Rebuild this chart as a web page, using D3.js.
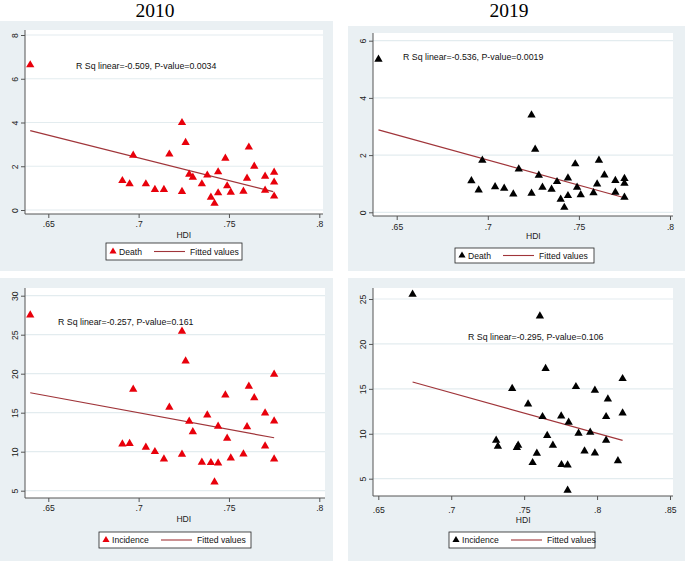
<!DOCTYPE html>
<html><head><meta charset="utf-8">
<script src="https://cdn.jsdelivr.net/npm/d3@7"></script>
<style>
html,body{margin:0;padding:0;background:#fff;}
svg{display:block;font-family:"Liberation Sans",Arial,sans-serif;}
</style></head>
<body><svg id="c" width="685" height="561"></svg>
<script>
// ---------- data ----------
const titles = ["2010", "2019"];
const xTicksA = [0.65, 0.7, 0.75, 0.8];
const xTicksB = [0.65, 0.7, 0.75, 0.8, 0.85];
const yTicksDeath2010 = [0, 2, 4, 6, 8];
const yTicksDeath2019 = [0, 2, 4, 6];
const yTicksInc2010 = [5, 10, 15, 20, 25, 30];
const yTicksInc2019 = [5, 10, 15, 20, 25];

const hdiDeath2010 = [0.640,0.691,0.695,0.697,0.704,0.709,0.714,0.717,0.724,0.724,0.726,0.728,0.730,0.735,0.738,0.740,0.742,0.744,0.744,0.748,0.749,0.751,0.758,0.760,0.761,0.764,0.770,0.770,0.775,0.775,0.775];
const death2010 = [6.63,1.34,1.19,2.50,1.19,0.93,0.93,2.55,3.99,0.84,3.08,1.63,1.49,1.19,1.59,0.58,0.30,1.74,0.78,2.36,1.10,0.81,0.85,1.45,2.87,2.00,1.54,0.90,1.72,1.27,0.63];
const fitDeath2010X = [0.640, 0.7745];
const fitDeath2010Y = [3.63, 0.84];

const hdiDeath2019 = [0.640,0.691,0.695,0.697,0.704,0.709,0.714,0.717,0.724,0.724,0.726,0.728,0.730,0.735,0.738,0.740,0.742,0.744,0.744,0.748,0.749,0.751,0.758,0.760,0.761,0.764,0.770,0.770,0.775,0.775,0.775];
const death2019 = [5.35,1.10,0.78,1.82,0.89,0.84,0.64,1.51,3.40,0.66,2.20,1.29,0.87,0.80,1.07,0.45,0.17,1.20,0.58,1.69,0.87,0.61,0.68,0.99,1.82,1.30,1.11,0.70,1.18,1.01,0.52];
const fitDeath2019X = [0.640, 0.775];
const fitDeath2019Y = [2.88, 0.51];

const hdiInc2010 = [0.640,0.691,0.695,0.697,0.704,0.709,0.714,0.717,0.724,0.724,0.726,0.728,0.730,0.735,0.738,0.740,0.742,0.744,0.744,0.748,0.749,0.751,0.758,0.760,0.761,0.764,0.770,0.770,0.775,0.775,0.775];
const inc2010 = [27.52,10.98,11.03,18.00,10.56,10.00,9.06,15.68,25.43,9.66,21.62,13.89,12.56,8.63,14.70,8.59,6.11,8.55,13.25,17.26,11.71,9.19,9.70,13.20,18.38,16.92,14.96,10.73,19.91,13.93,9.06];
const fitInc2010X = [0.640, 0.775];
const fitInc2010Y = [17.56, 11.79];

const hdiInc2019 = [0.6735,0.7308,0.7320,0.7418,0.7450,0.7459,0.7527,0.7558,0.7587,0.7608,0.7626,0.7647,0.7658,0.7697,0.7754,0.7756,0.7798,0.7798,0.7805,0.7855,0.7873,0.7914,0.7953,0.7985,0.7985,0.8062,0.8062,0.8074,0.8143,0.8175,0.8175];
const inc2019 = [25.52,9.27,8.60,15.02,8.45,8.71,13.31,6.78,7.82,23.10,11.90,17.25,9.79,8.71,11.98,6.56,6.52,3.70,11.27,15.24,10.05,8.08,10.16,14.83,7.86,9.27,11.90,13.87,7.00,16.13,12.31];
const fitInc2019X = [0.6735, 0.8175];
const fitInc2019Y = [15.76, 9.27];

const stats = ["R Sq linear=-0.509, P-value=0.0034","R Sq linear=-0.536, P-value=0.0019","R Sq linear=-0.257, P-value=0.161","R Sq linear=-0.295, P-value=0.106"];
const seriesNames = ["Death","Death","Incidence","Incidence"];
const fitName = "Fitted values";
const xTitle = "HDI";

// ---------- layout ----------
const panels = [
  {x:hdiDeath2010, y:death2010, fx:fitDeath2010X, fy:fitDeath2010Y, xt:xTicksA, yt:yTicksDeath2010, color:"#e8000b",
   bg:[0,21,333,250], plot:[25,30,323,214], xd:[0.65,0.8], xr:[48.3,319.3], yd:[0,8], yr:[210,35],
   stat:[76,69], tickY:227, hdiY:237.5, leg:[106,243,136,17]},
  {x:hdiDeath2019, y:death2019, fx:fitDeath2019X, fy:fitDeath2019Y, xt:xTicksA, yt:yTicksDeath2019, color:"#000",
   bg:[348,26,337,245], plot:[373,33,673,216], xd:[0.65,0.8], xr:[396.7,670], yd:[0,6], yr:[212.3,40.7],
   stat:[403,60], tickY:230, hdiY:238.5, leg:[455,248,139,15]},
  {x:hdiInc2010, y:inc2010, fx:fitInc2010X, fy:fitInc2010Y, xt:xTicksA, yt:yTicksInc2010, color:"#e8000b",
   bg:[0,278,333,283], plot:[25,288,325,498], xd:[0.65,0.8], xr:[48.3,319.3], yd:[5,30], yr:[490.7,295.7],
   stat:[58,325], tickY:511, hdiY:521.5, leg:[99,532,152,16]},
  {x:hdiInc2019, y:inc2019, fx:fitInc2019X, fy:fitInc2019Y, xt:xTicksB, yt:yTicksInc2019, color:"#000",
   bg:[348,278,337,283], plot:[373,288,673,496], xd:[0.65,0.85], xr:[378.3,670], yd:[5,25], yr:[478.7,299],
   stat:[468,340], tickY:513, hdiY:522.5, leg:[449,532,146,16]}
];

const svg = d3.select("#c");
const fitColor = "#a0353a";
const tri = d3.symbol().type(d3.symbolTriangle).size(30);
const triLeg = d3.symbol().type(d3.symbolTriangle).size(22);
const FS = 8.6;

// titles
svg.append("text").attr("x",155).attr("y",17).attr("text-anchor","middle")
  .attr("font-family","'Liberation Serif','Times New Roman',serif").attr("font-size",19.5).text(titles[0]);
svg.append("text").attr("x",509).attr("y",17).attr("text-anchor","middle")
  .attr("font-family","'Liberation Serif','Times New Roman',serif").attr("font-size",19.5).text(titles[1]);

panels.forEach((p,i)=>{
  const g = svg.append("g");
  g.append("rect").attr("x",p.bg[0]).attr("y",p.bg[1]).attr("width",p.bg[2]).attr("height",p.bg[3]).attr("fill","#eaf0f3");
  const [L,T,R,B] = p.plot;
  g.append("rect").attr("x",L).attr("y",T).attr("width",R-L).attr("height",B-T).attr("fill","#fff");
  const xs = d3.scaleLinear().domain(p.xd).range(p.xr);
  const ys = d3.scaleLinear().domain(p.yd).range(p.yr);
  // gridlines
  g.selectAll(".grid").data(p.yt).join("line")
    .attr("x1",L).attr("x2",R).attr("y1",d=>ys(d)).attr("y2",d=>ys(d))
    .attr("stroke","#e3ecef").attr("stroke-width",1.2);
  // axes
  const ya = g.append("g").attr("transform",`translate(${L},0)`)
    .call(d3.axisLeft(ys).tickValues(p.yt).tickSize(4).tickFormat(d3.format("d")));
  ya.select(".domain").attr("d",`M0,${T}V${B}`).attr("stroke","#555");
  ya.selectAll(".tick line").attr("stroke","#555");
  ya.selectAll(".tick text").attr("x",null).attr("dy",null).attr("text-anchor","middle")
    .attr("transform","translate(-7.5,0) rotate(-90)").attr("font-size",FS).attr("fill","#222")
    .attr("font-family","'Liberation Sans',Arial,sans-serif");
  const xa = g.append("g").attr("transform",`translate(0,${B})`)
    .call(d3.axisBottom(xs).tickValues(p.xt).tickSize(4).tickFormat(d=>d3.format(".2~f")(d).replace(/^0/,"")));
  xa.select(".domain").attr("d",`M${L},0H${R}`).attr("stroke","#555");
  xa.selectAll(".tick line").attr("stroke","#555");
  xa.selectAll(".tick text").attr("y",p.tickY-B).attr("dy",null).attr("font-size",FS).attr("fill","#222")
    .attr("font-family","'Liberation Sans',Arial,sans-serif");
  // HDI
  g.append("text").attr("x",(p.xr[0]+p.xr[1])/2 + (i===3?-1:0)).attr("y",p.hdiY).attr("text-anchor","middle")
    .attr("font-size",FS).attr("fill","#222").text(xTitle);
  // fitted line
  g.append("line").attr("x1",xs(p.fx[0])).attr("y1",ys(p.fy[0])).attr("x2",xs(p.fx[1])).attr("y2",ys(p.fy[1]))
    .attr("stroke",fitColor).attr("stroke-width",1.2);
  // points
  g.selectAll(".pt").data(p.x.map((v,k)=>[v,p.y[k]])).join("path")
    .attr("d",tri).attr("transform",d=>`translate(${xs(d[0])},${ys(d[1])})`).attr("fill",p.color);
  // stat text
  g.append("text").attr("x",p.stat[0]).attr("y",p.stat[1]).attr("font-size",FS+0.2).attr("fill","#111").text(stats[i]);
  // legend
  const [lx,ly,lw,lh] = p.leg;
  const lg = g.append("g");
  lg.append("rect").attr("x",lx).attr("y",ly).attr("width",lw).attr("height",lh).attr("fill","#fff").attr("stroke","#222").attr("stroke-width",0.8);
  const cy = ly+lh/2;
  lg.append("path").attr("d",triLeg).attr("transform",`translate(${lx+7},${cy})`).attr("fill",p.color);
  lg.append("text").attr("x",lx+13).attr("y",cy+3).attr("font-size",FS).attr("fill","#111").text(seriesNames[i]);
  const lineStart = i<2 ? lx+48 : lx+62;
  lg.append("line").attr("x1",lineStart).attr("x2",lineStart+31).attr("y1",cy).attr("y2",cy).attr("stroke",fitColor).attr("stroke-width",1.1);
  lg.append("text").attr("x",lineStart+36).attr("y",cy+3).attr("font-size",FS).attr("fill","#111").text(fitName);
});
</script>
</body></html>
